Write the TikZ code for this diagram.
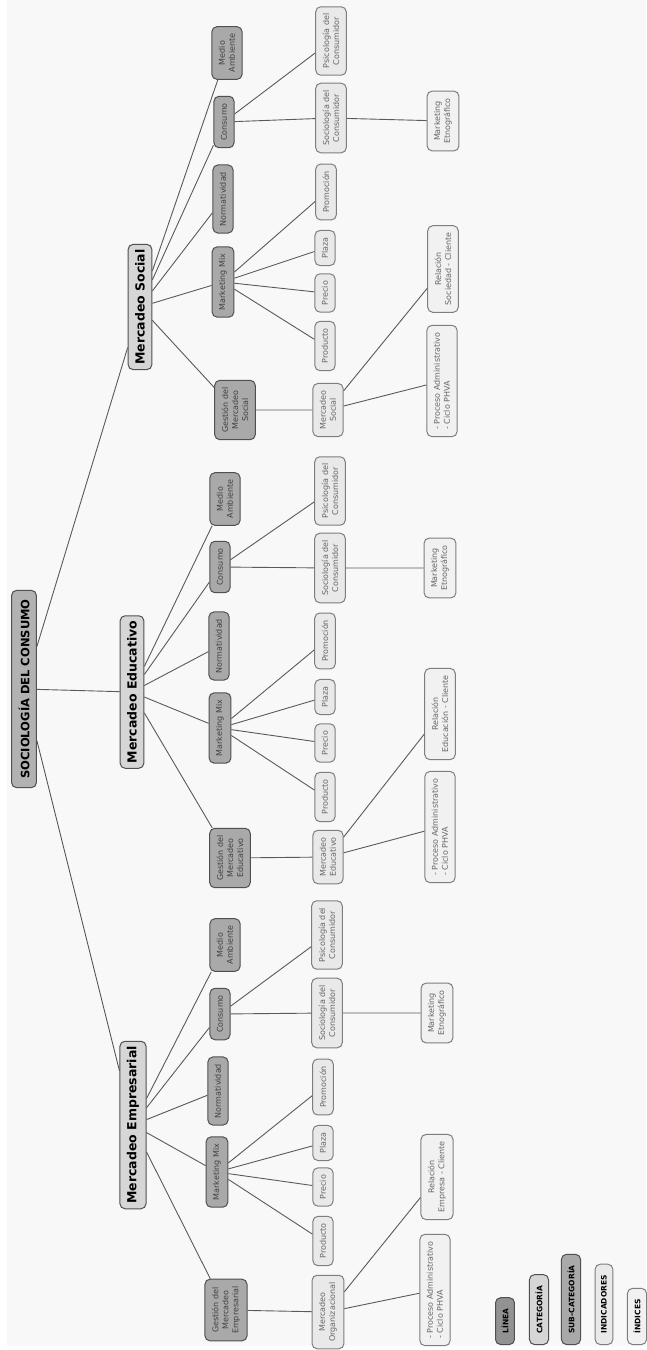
\documentclass[tikz,border=0pt]{standalone}
\usepackage{fontspec}
\setmainfont{DejaVu Sans}
\definecolor{fondo}{HTML}{F8F8F8}
\definecolor{cLinea}{HTML}{B2B2B2}
\definecolor{cLeyLinea}{HTML}{929292}
\definecolor{cCat}{HTML}{D6D6D6}
\definecolor{cSub}{HTML}{A9A9A9}
\definecolor{cInd}{HTML}{E9E9E9}
\definecolor{cIdx}{HTML}{F1F1F1}
\definecolor{borde}{HTML}{505050}
\definecolor{bordeClaro}{HTML}{7E7E7E}
\definecolor{rama}{HTML}{5A5A5A}
\tikzset{
  caja/.style={rectangle, rounded corners=5pt, draw=borde, line width=1pt, rotate=90,
    align=center, inner xsep=7pt, inner ysep=7pt},
  linea/.style={caja, fill=cLinea, inner xsep=9pt, font=\bfseries\fontsize{11.5}{13}\selectfont},
  categoria/.style={caja, fill=cCat, inner xsep=5pt, font=\bfseries\fontsize{12.5}{14}\selectfont},
  subcat/.style={caja, fill=cSub, text=black!75, font=\fontsize{8}{10}\selectfont},
  indicador/.style={caja, fill=cInd, draw=bordeClaro, text=black!60, font=\fontsize{8}{10}\selectfont},
  indice/.style={caja, fill=cIdx, draw=bordeClaro, text=black!60, font=\fontsize{8}{10}\selectfont},
  leyenda/.style={caja, anchor=west, inner xsep=11pt, inner ysep=6pt, font=\bfseries\fontsize{7.5}{9}\selectfont},
  rama/.style={draw=rama, line width=0.9pt},
}
\begin{document}
\begin{tikzpicture}[x=1pt,y=-1pt]
\useasboundingbox (0,0) rectangle (646,1350);
\fill[fondo] (7,0) rectangle (646,1346);

\node[linea] (root) at (24,689) {SOCIOLOGÍA DEL CONSUMO};

\node[categoria] (mS) at (140,307) {Mercadeo Social};
\node[categoria] (mE) at (132,692) {Mercadeo Educativo};
\node[categoria] (mP) at (133,1125) {Mercadeo Empresarial};

% mercadeo social
\node[subcat] (medS) at (227,53) {Medio\\Ambiente};
\node[subcat] (consS) at (224,122) {Consumo};
\node[subcat] (normS) at (223,199) {Normatividad};
\node[subcat] (mixS) at (223,282) {Marketing Mix};
\node[subcat] (gesS) at (235,410) {Gestión del\\Mercadeo\\Social};
\node[indicador] (psiS) at (331,41) {Psicología del\\Consumidor};
\node[indicador] (socS) at (331,118) {Sociología del\\Consumidor};
\node[indicador] (promS) at (326,192) {Promoción};
\node[indicador] (plazS) at (325,248) {Plaza};
\node[indicador] (precS) at (325,293) {Precio};
\node[indicador] (prodS) at (325,346) {Producto};
\node[indicador] (subS) at (328,410) {Mercadeo\\Social};
\node[indice] (etnS) at (443,121) {Marketing\\Etnográfico};
\node[indice] (relS) at (443,269) {Relación\\Sociedad - Cliente};
\node[indice, align=left] (procS) at (442,381) {- Proceso Administrativo\\- Ciclo PHVA};

% mercadeo educativo
\node[subcat] (medE) at (225,499) {Medio\\Ambiente};
\node[subcat] (consE) at (220,567) {Consumo};
\node[subcat] (normE) at (219,646) {Normatividad};
\node[subcat] (mixE) at (220,728) {Marketing Mix};
\node[subcat] (gesE) at (230,858) {Gestión del\\Mercadeo\\Educativo};
\node[indicador] (psiE) at (330,491) {Psicología del\\Consumidor};
\node[indicador] (socE) at (330,568) {Sociología del\\Consumidor};
\node[indicador] (promE) at (325,641) {Promoción};
\node[indicador] (plazE) at (325,697) {Plaza};
\node[indicador] (precE) at (325,743) {Precio};
\node[indicador] (prodE) at (325,797) {Producto};
\node[indicador] (subE) at (328,857) {Mercadeo\\Educativo};
\node[indice] (etnE) at (440,568) {Marketing\\Etnográfico};
\node[indice] (relE) at (440,714) {Relación\\Educación - Cliente};
\node[indice, align=left] (procE) at (440,827) {- Proceso Administrativo\\- Ciclo PHVA};

% mercadeo empresarial
\node[subcat] (medP) at (225,945) {Medio\\Ambiente};
\node[subcat] (consP) at (220,1014) {Consumo};
\node[subcat] (normP) at (218,1091) {Normatividad};
\node[subcat] (mixP) at (217,1172) {Marketing Mix};
\node[subcat] (gesP) at (226,1310) {Gestión del\\Mercadeo\\Empresarial};
\node[indicador] (psiP) at (327,935) {Psicología del\\Consumidor};
\node[indicador] (socP) at (327,1013) {Sociología del\\Consumidor};
\node[indicador] (promP) at (323,1087) {Promoción};
\node[indicador] (plazP) at (323,1143) {Plaza};
\node[indicador] (precP) at (323,1187) {Precio};
\node[indicador] (prodP) at (323,1241) {Producto};
\node[indicador] (subP) at (328,1312) {Mercadeo\\Organizacional};
\node[indice] (etnP) at (437,1013) {Marketing\\Etnográfico};
\node[indice] (relP) at (437,1177) {Relación\\Empresa - Cliente};
\node[indice, align=left] (procP) at (435,1290) {- Proceso Administrativo\\- Ciclo PHVA};

\draw[rama] (root) -- (mS) (root) -- (mE) (root) -- (mP);

\draw[rama] (mS) -- (medS) (mS) -- (consS) (mS) -- (normS) (mS) -- (mixS) (mS) -- (gesS);
\draw[rama] (mixS) -- (promS) (mixS) -- (plazS) (mixS) -- (precS) (mixS) -- (prodS);
\draw[rama] (consS) -- (psiS) (consS) -- (socS) (socS) -- (etnS);
\draw[rama] (gesS) -- (subS) (subS) -- (relS) (subS) -- (procS);

\draw[rama] (mE) -- (medE) (mE) -- (consE) (mE) -- (normE) (mE) -- (mixE) (mE) -- (gesE);
\draw[rama] (mixE) -- (promE) (mixE) -- (plazE) (mixE) -- (precE) (mixE) -- (prodE);
\draw[rama] (consE) -- (psiE) (consE) -- (socE) (socE) -- (etnE);
\draw[rama] (gesE) -- (subE) (subE) -- (relE) (subE) -- (procE);

\draw[rama] (mP) -- (medP) (mP) -- (consP) (mP) -- (normP) (mP) -- (mixP) (mP) -- (gesP);
\draw[rama] (mixP) -- (promP) (mixP) -- (plazP) (mixP) -- (precP) (mixP) -- (prodP);
\draw[rama] (consP) -- (psiP) (consP) -- (socP) (socP) -- (etnP);
\draw[rama] (gesP) -- (subP) (subP) -- (relP) (subP) -- (procP);

% leyenda
\node[leyenda, fill=cLeyLinea] (leyLinea) at (505,1345) {LÍNEA};
\node[leyenda, fill=cCat] (leyCat) at (539,1345) {CATEGORÍA};
\node[leyenda, fill=cSub] (leySub) at (571,1345) {SUB-CATEGORÍA};
\node[leyenda, fill=cInd, draw=bordeClaro] (leyInd) at (604,1345) {INDICADORES};
\node[leyenda, fill=cIdx, draw=bordeClaro] (leyIdx) at (637,1345) {ÍNDICES};
\end{tikzpicture}
\end{document}
